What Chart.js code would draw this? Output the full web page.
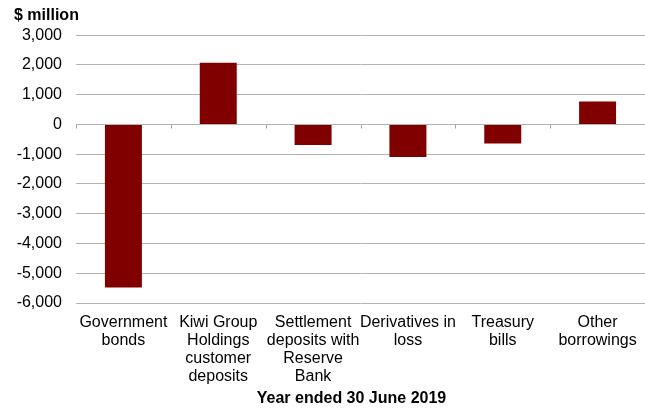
<!DOCTYPE html>
<html>
<head>
<meta charset="utf-8">
<script src="https://cdn.jsdelivr.net/npm/chart.js@4.4.1/dist/chart.umd.min.js"></script>
<style>
  html, body { margin: 0; padding: 0; background: #fff; }
  #wrap { width: 645px; height: 409px; }
</style>
</head>
<body>
<div id="wrap"><canvas id="chart" width="645" height="409"></canvas></div>
<script>
// ---------- DATA ----------
const categories = [
  ["Government", "bonds"],
  ["Kiwi Group", "Holdings", "customer", "deposits"],
  ["Settlement", "deposits with", "Reserve", "Bank"],
  ["Derivatives in", "loss"],
  ["Treasury", "bills"],
  ["Other", "borrowings"]
];
const changes = [-5480, 2070, -690, -1090, -640, 770];
const yTicks = [3000, 2000, 1000, 0, -1000, -2000, -3000, -4000, -5000, -6000];
const xTitle = "Year ended 30 June 2019";

const FONT = "'Liberation Sans', Arial, sans-serif";

// small tick marks on the zero line at each category boundary
const zeroTicks = {
  id: "zeroTicks",
  beforeDatasetsDraw(chart) {
    const { ctx, scales } = chart;
    const x = scales.x, y = scales.y;
    const y0 = Math.round(y.getPixelForValue(0)) + 0.5;
    ctx.save();
    ctx.strokeStyle = "#a6a6a6";
    ctx.lineWidth = 1;
    ctx.beginPath();
    for (let i = 0; i <= categories.length; i++) {
      const px = Math.round(x.getPixelForValue(i - 0.5)) + 0.5;
      ctx.moveTo(px, y0);
      ctx.lineTo(px, y0 + 4);
    }
    ctx.stroke();
    ctx.restore();
  }
};

// axis caption under the category labels, sitting a bit left of the plot centre
const caption = {
  id: "caption",
  afterDraw(chart) {
    const { ctx, chartArea } = chart;
    ctx.save();
    ctx.font = "bold 16px " + FONT;
    ctx.fillStyle = "#000";
    ctx.textAlign = "center";
    ctx.textBaseline = "middle";
    ctx.fillText(xTitle, (chartArea.left + chartArea.right) / 2 - 9, chart.height - 10);
    ctx.restore();
  }
};

new Chart(document.getElementById("chart"), {
  type: "bar",
  data: {
    labels: categories,
    datasets: [{
      data: changes,
      backgroundColor: "#800000",
      borderWidth: 0,
      barPercentage: 0.39,
      categoryPercentage: 1
    }]
  },
  options: {
    responsive: false,
    animation: false,
    layout: { padding: { left: 14, right: -2, top: 0, bottom: 20 } },
    plugins: {
      legend: { display: false },
      tooltip: { enabled: false },
      title: {
        display: true,
        text: "$ million",
        align: "start",
        color: "#000",
        font: { family: FONT, size: 16, weight: "bold" },
        padding: { top: 6, bottom: 10 }
      }
    },
    scales: {
      x: {
        grid: { display: false },
        border: { display: false },
        ticks: {
          color: "#000",
          font: { family: FONT, size: 16, lineHeight: 1.125 },
          padding: 3,
          maxRotation: 0,
          autoSkip: false
        }
      },
      y: {
        min: -6000,
        max: 3000,
        afterBuildTicks(scale) {
          scale.ticks = yTicks.map(v => ({ value: v }));
        },
        afterFit(scale) {
          scale.width = 62;
        },
        grid: { color: "#b3b3b3", lineWidth: 1, drawTicks: false },
        border: { display: false },
        ticks: {
          color: "#000",
          font: { family: FONT, size: 16 },
          padding: 14,
          callback: v => v.toLocaleString("en-US")
        }
      }
    }
  },
  plugins: [zeroTicks, caption]
});
</script>
</body>
</html>
